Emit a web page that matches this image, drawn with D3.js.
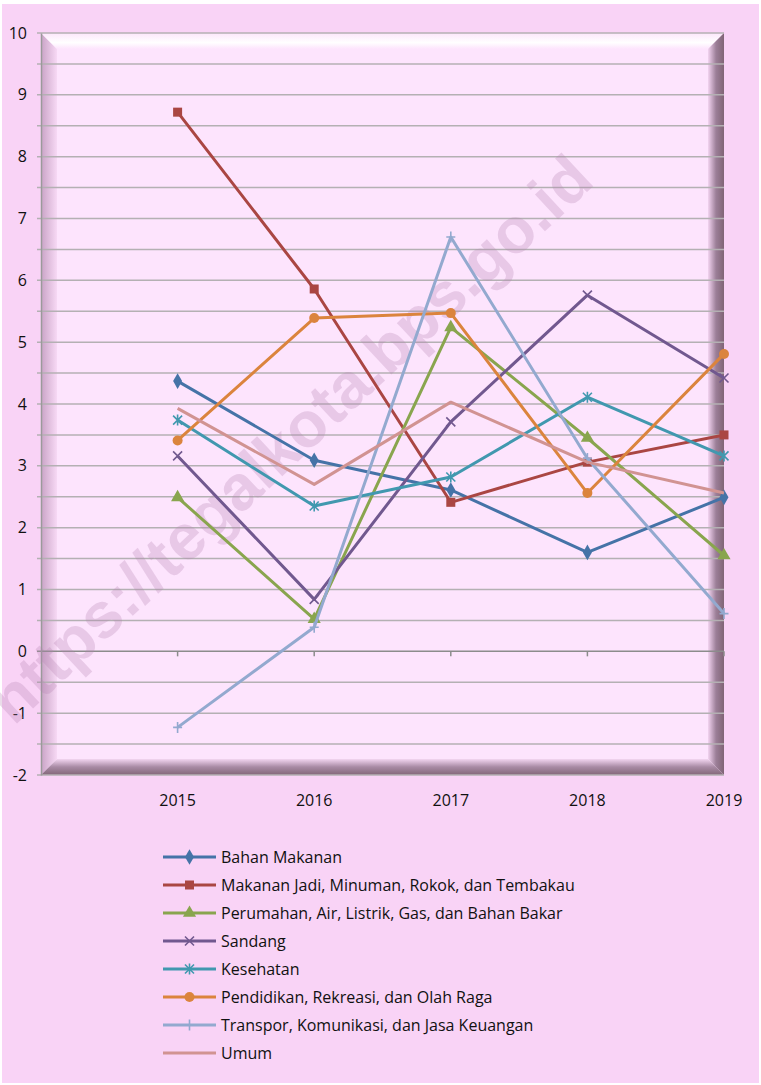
<!DOCTYPE html>
<html>
  <head>
    <meta charset="utf-8">
    <style>
      body { margin: 0; background: #ffffff; }
      .tick-label, .legend text {
        font-family: 'Open Sans', 'Noto Sans', Arial, sans-serif;
        font-size: 16px;
        fill: #111;
      }
    </style>
  </head>
  <body>
    <script src="https://cdn.jsdelivr.net/npm/d3@7/dist/d3.min.js"></script>
    <script>
      var width = 761;
      var height = 1085;

      var years = ["", "2015", "2016", "2017", "2018", "2019"];
      var yTicks = [-2, -1, 0, 1, 2, 3, 4, 5, 6, 7, 8, 9, 10];

      var seriesNames = [
        "Bahan Makanan",
        "Makanan Jadi, Minuman, Rokok, dan Tembakau",
        "Perumahan, Air, Listrik, Gas, dan Bahan Bakar",
        "Sandang",
        "Kesehatan",
        "Pendidikan, Rekreasi, dan Olah Raga",
        "Transpor, Komunikasi, dan Jasa Keuangan",
        "Umum"
      ];
      var bahanMakanan = [4.37, 3.09, 2.61, 1.60, 2.49];
      var makananJadi = [8.72, 5.86, 2.41, 3.06, 3.50];
      var perumahan = [2.49, 0.52, 5.24, 3.45, 1.55];
      var sandang = [3.16, 0.84, 3.71, 5.76, 4.42];
      var kesehatan = [3.74, 2.35, 2.82, 4.11, 3.16];
      var pendidikan = [3.41, 5.39, 5.47, 2.56, 4.81];
      var transpor = [-1.23, 0.39, 6.70, 3.12, 0.61];
      var umum = [3.93, 2.70, 4.03, 3.06, 2.56];

      var seriesValues = [bahanMakanan, makananJadi, perumahan, sandang, kesehatan, pendidikan, transpor, umum];
      var colors = ["#4573a7", "#aa4643", "#89a54e", "#71588f", "#4198af", "#db843d", "#93a9cf", "#d19392"];
      var markers = ["diamond", "square", "triangle", "x", "asterisk", "circle", "plus", "none"];

      var plotLeft = 41, plotRight = 724, plotTop = 33, plotBottom = 775;

      var svg = d3.select("body").append("svg")
        .attr("width", width)
        .attr("height", height);

      var defs = svg.append("defs");

      function grad(id, x1, y1, x2, y2, stops) {
        var g = defs.append("linearGradient").attr("id", id)
          .attr("x1", x1).attr("y1", y1).attr("x2", x2).attr("y2", y2);
        stops.forEach(function(s) {
          g.append("stop").attr("offset", s[0]).attr("stop-color", s[1]);
        });
      }
      grad("bevLeft", 0, 0, 1, 0, [[0, "#c9a3c6"], [1, "#f7d9f5"]]);
      grad("bevTop", 0, 0, 0, 1, [[0, "#fce6fb"], [0.6, "#ffffff"], [1, "#fde4fd"]]);
      grad("bevRight", 0, 0, 1, 0, [[0, "#f3d4f1"], [0.5, "#9c7f98"], [1, "#806476"]]);
      grad("bevBottom", 0, 0, 0, 1, [[0, "#f3d6f1"], [0.5, "#a88aa4"], [1, "#836779"]]);

      // chart background
      svg.append("rect")
        .attr("x", 2).attr("y", 4)
        .attr("width", width - 4).attr("height", height - 6)
        .attr("fill", "#f9d3f6");

      // plot area with bevel
      var bw = 16;
      svg.append("rect")
        .attr("x", plotLeft).attr("y", plotTop)
        .attr("width", plotRight - plotLeft).attr("height", plotBottom - plotTop)
        .attr("fill", "#fde4fd");
      svg.append("polygon")
        .attr("points", [[plotLeft, plotTop], [plotLeft + bw, plotTop + bw], [plotLeft + bw, plotBottom - bw], [plotLeft, plotBottom]].join(" "))
        .attr("fill", "url(#bevLeft)");
      svg.append("polygon")
        .attr("points", [[plotLeft, plotTop], [plotRight, plotTop], [plotRight - bw, plotTop + bw], [plotLeft + bw, plotTop + bw]].join(" "))
        .attr("fill", "url(#bevTop)");
      svg.append("polygon")
        .attr("points", [[plotRight, plotTop], [plotRight, plotBottom], [plotRight - bw, plotBottom - bw], [plotRight - bw, plotTop + bw]].join(" "))
        .attr("fill", "url(#bevRight)");
      svg.append("polygon")
        .attr("points", [[plotLeft, plotBottom], [plotLeft + bw, plotBottom - bw], [plotRight - bw, plotBottom - bw], [plotRight, plotBottom]].join(" "))
        .attr("fill", "url(#bevBottom)");

      var x = d3.scalePoint().domain(years).range([plotLeft, plotRight]);
      var y = d3.scaleLinear().domain([-2, 10]).range([plotBottom, plotTop]);

      // gridlines (major + half steps)
      var gridVals = d3.range(-2, 10.01, 0.5);
      svg.append("g").selectAll("line")
        .data(gridVals)
        .enter().append("line")
        .attr("x1", plotLeft - 4).attr("x2", plotRight)
        .attr("y1", function(d) { return y(d); })
        .attr("y2", function(d) { return y(d); })
        .attr("stroke", function(d) { return d === 0 ? "#8c8c8c" : "#b4b0b3"; })
        .attr("stroke-width", 1.5);

      // y axis
      var yAxis = svg.append("g")
        .attr("transform", "translate(" + plotLeft + ",0)")
        .call(d3.axisLeft(y).tickValues(yTicks).tickSize(0).tickPadding(14)
          .tickFormat(function(d) { return String(d); }));
      yAxis.select(".domain").attr("stroke", "#9a9a9a").attr("stroke-width", 1.5);
      yAxis.selectAll("text").attr("class", "tick-label").attr("font-size", null).attr("font-family", null);

      // x ticks on zero line
      svg.append("g").selectAll("line")
        .data(years.slice(1))
        .enter().append("line")
        .attr("x1", function(d) { return x(d); })
        .attr("x2", function(d) { return x(d); })
        .attr("y1", y(0)).attr("y2", y(0) + 5)
        .attr("stroke", "#8c8c8c").attr("stroke-width", 1.5);

      svg.append("g").selectAll("text")
        .data(years.slice(1))
        .enter().append("text")
        .attr("class", "tick-label")
        .attr("x", function(d) { return x(d); })
        .attr("y", 806)
        .attr("text-anchor", "middle")
        .text(function(d) { return d; });

      // watermark
      svg.append("text")
        .attr("transform", "translate(305,455) rotate(-43)")
        .attr("text-anchor", "middle")
        .attr("font-family", "Liberation Sans, Arial, sans-serif")
        .attr("font-weight", "bold")
        .attr("font-size", 64)
        .attr("fill", "#b480b0")
        .attr("fill-opacity", 0.28)
        .text("https://tegalkota.bps.go.id");

      function drawMarker(g, type, color, cx, cy) {
        var s = 4.5;
        if (type === "diamond") {
          g.append("path").attr("d", d3.symbol(d3.symbolDiamond, 70)())
            .attr("transform", "translate(" + cx + "," + cy + ")").attr("fill", color);
        } else if (type === "square") {
          g.append("rect").attr("x", cx - s).attr("y", cy - s).attr("width", 2 * s).attr("height", 2 * s).attr("fill", color);
        } else if (type === "triangle") {
          g.append("path").attr("d", d3.symbol(d3.symbolTriangle, 75)())
            .attr("transform", "translate(" + cx + "," + cy + ")").attr("fill", color);
        } else if (type === "circle") {
          g.append("circle").attr("cx", cx).attr("cy", cy).attr("r", 5).attr("fill", color);
        } else if (type === "x" || type === "asterisk" || type === "plus") {
          var d = "";
          if (type !== "plus") d += "M" + (cx - s) + "," + (cy - s) + "L" + (cx + s) + "," + (cy + s) +
            "M" + (cx - s) + "," + (cy + s) + "L" + (cx + s) + "," + (cy - s);
          if (type !== "x") d += "M" + cx + "," + (cy - s - 1) + "L" + cx + "," + (cy + s + 1);
          if (type === "plus") d += "M" + (cx - s) + "," + cy + "L" + (cx + s) + "," + cy;
          g.append("path").attr("d", d).attr("stroke", color).attr("stroke-width", 1.6).attr("fill", "none");
        }
      }

      var line = d3.line()
        .x(function(d, i) { return x(years[i + 1]); })
        .y(function(d) { return y(d); });

      var series = svg.append("g");
      seriesValues.forEach(function(vals, k) {
        var g = series.append("g");
        g.append("path")
          .attr("d", line(vals))
          .attr("fill", "none")
          .attr("stroke", colors[k])
          .attr("stroke-width", 3)
          .attr("stroke-linejoin", "round");
        vals.forEach(function(v, i) {
          drawMarker(g, markers[k], colors[k], x(years[i + 1]), y(v));
        });
      });

      // legend
      var legend = svg.append("g").attr("class", "legend");
      seriesNames.forEach(function(name, k) {
        var ly = 857 + k * 28;
        var g = legend.append("g");
        g.append("line")
          .attr("x1", 163).attr("x2", 216)
          .attr("y1", ly).attr("y2", ly)
          .attr("stroke", colors[k]).attr("stroke-width", 3);
        drawMarker(g, markers[k], colors[k], 189.5, ly);
        g.append("text")
          .attr("x", 221).attr("y", ly + 5.5)
          .text(name);
      });
    </script>
  </body>
</html>
